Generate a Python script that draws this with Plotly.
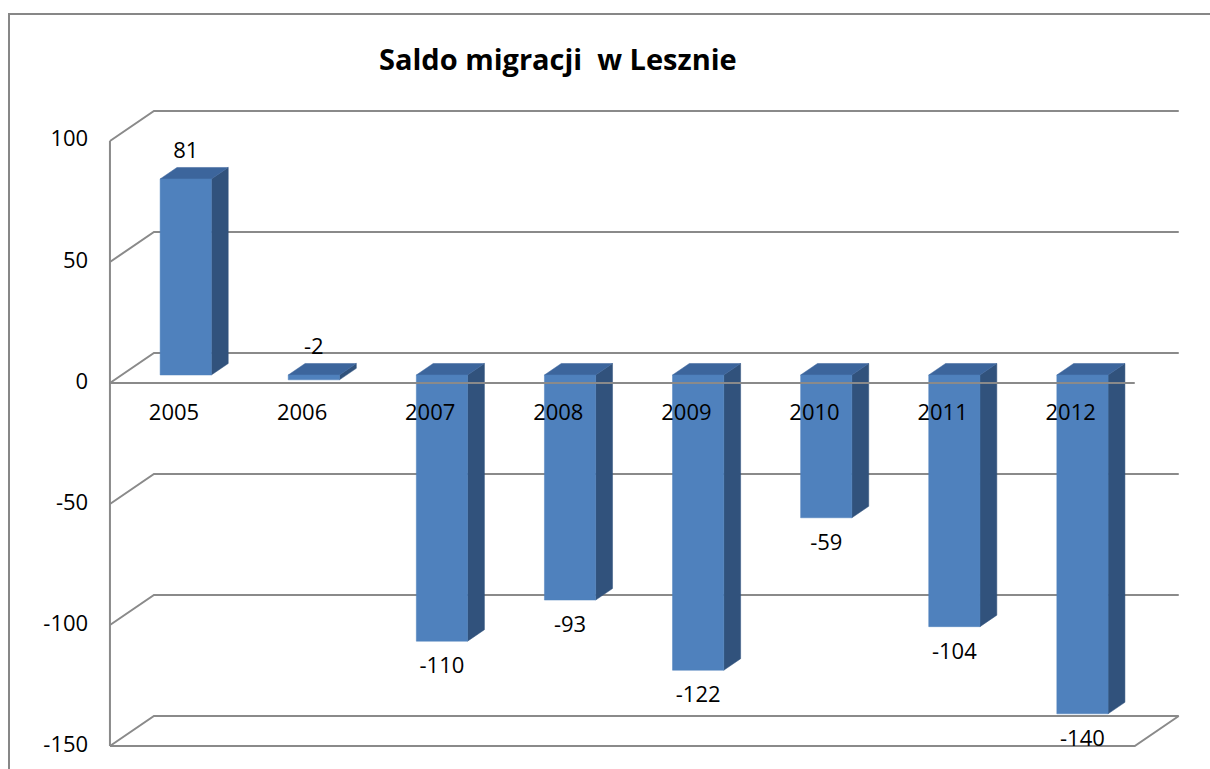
import plotly.graph_objects as go

years = ["2005", "2006", "2007", "2008", "2009", "2010", "2011", "2012"]
values = [81, -2, -110, -93, -122, -59, -104, -140]
grid_values = [100, 50, 0, -50, -100, -150]
tick_labels = ["100", "50", "0", "-50", "-100", "-150"]

title_text = "Saldo migracji  w Lesznie"

# 3D projection constants (in data units)
DX = 0.3435   # x shift for full depth
DY = 12.4     # y shift for full depth
D0, D1 = 0.267, 0.65  # bar front/back depth
HW = 0.2      # bar half width
XMIN, XMAX = -0.5, len(years) - 0.5
YMIN, YMAX = grid_values[-1], grid_values[0]

FONT = "Open Sans"
GRID = "#8a8a8a"
C_FRONT = "#4F81BD"
C_SIDE = "#31527C"
C_TOP = "#3C659C"

fig = go.Figure()

def line(xs, ys, color=GRID, width=2):
    fig.add_trace(go.Scatter(x=xs, y=ys, mode="lines", line=dict(color=color, width=width),
                             hoverinfo="skip", showlegend=False))

def poly(xs, ys, color):
    fig.add_trace(go.Scatter(x=xs + [xs[0]], y=ys + [ys[0]], mode="lines", fill="toself",
                             fillcolor=color, line=dict(color=color, width=0.5),
                             hoverinfo="skip", showlegend=False))

# back wall gridlines and left wall diagonals
for g in grid_values:
    line([XMIN, XMIN + DX, XMAX + DX], [g, g + DY, g + DY])
# left wall vertical
line([XMIN, XMIN], [YMIN, YMAX])
# floor
line([XMIN, XMAX, XMAX + DX], [YMIN, YMIN, YMIN + DY])

# bars
for i, v in enumerate(values):
    top = max(v, 0)
    bot = min(v, 0)
    xl = i - HW + D0 * DX
    xr = i + HW + D0 * DX
    y0 = D0 * DY
    sx = (D1 - D0) * DX
    sy = (D1 - D0) * DY
    # side face
    poly([xr, xr + sx, xr + sx, xr], [bot + y0, bot + y0 + sy, top + y0 + sy, top + y0], C_SIDE)
    # top face
    poly([xl, xr, xr + sx, xl + sx], [top + y0, top + y0, top + y0 + sy, top + y0 + sy], C_TOP)
    # front face
    poly([xl, xr, xr, xl], [bot + y0, bot + y0, top + y0, top + y0], C_FRONT)

# front zero axis line
line([XMIN, XMAX], [0, 0])

# category labels
fig.add_trace(go.Scatter(x=list(range(len(years))), y=[-13.2] * len(years), mode="text",
                         text=years, textposition="middle center",
                         textfont=dict(family=FONT, size=22, color="#000000"),
                         hoverinfo="skip", showlegend=False))

# value labels
lx, ly = [], []
for i, v in enumerate(values):
    lx.append(i + D0 * DX)
    if v > -5:
        ly.append(max(v, 0) + D0 * DY + 11)
    else:
        ly.append(v + D0 * DY - 11)
fig.add_trace(go.Scatter(x=lx, y=ly, mode="text", text=[str(v) for v in values],
                         textposition="middle center",
                         textfont=dict(family=FONT, size=22, color="#000000"),
                         hoverinfo="skip", showlegend=False))

# y tick labels
fig.add_trace(go.Scatter(x=[XMIN - 0.17] * len(grid_values), y=grid_values, mode="text",
                         text=tick_labels, textposition="middle left",
                         textfont=dict(family=FONT, size=22, color="#000000"),
                         hoverinfo="skip", showlegend=False))

fig.update_layout(
    width=1210, height=769,
    margin=dict(l=0, r=0, t=0, b=0),
    paper_bgcolor="white", plot_bgcolor="white",
    xaxis=dict(range=[-1.3583, 8.0874], visible=False, fixedrange=True),
    yaxis=dict(range=[-159.5, 158.26], visible=False, fixedrange=True),
    shapes=[dict(type="rect", xref="paper", yref="paper",
                 x0=9 / 1210, x1=1.02, y0=-0.03, y1=1 - 14 / 769,
                 line=dict(color="#878787", width=2), fillcolor="rgba(0,0,0,0)")],
    annotations=[dict(text="<b>" + title_text + "</b>", xref="paper", yref="paper",
                      x=557.5 / 1210, y=1 - 58 / 769, xanchor="center", yanchor="middle",
                      showarrow=False, font=dict(family=FONT, size=29, color="#000000"))],
)

fig.write_html("out.html", config={"displayModeBar": False},
               post_script="document.body.style.margin='0';document.body.style.overflow='hidden';")
